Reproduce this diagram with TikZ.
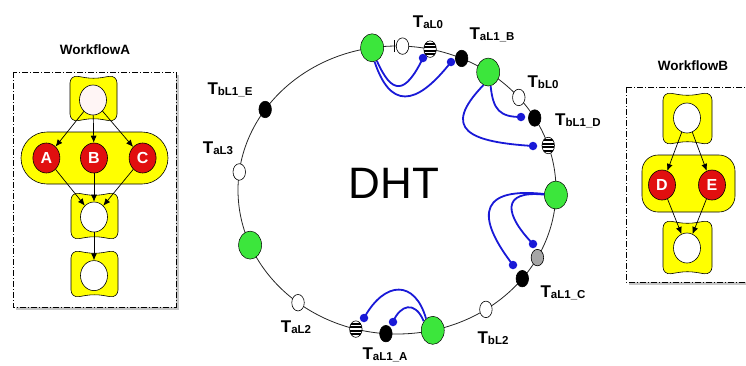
\documentclass[tikz,border=0pt]{standalone}
\usepackage{fontspec}
\setmainfont{Liberation Sans}
\usetikzlibrary{positioning, calc, shapes, arrows.meta, shadows}

\definecolor{ringgreen}{RGB}{60,230,60}
\definecolor{jobred}{RGB}{225,15,15}
\definecolor{linkblue}{RGB}{25,25,215}
\definecolor{padyellow}{RGB}{255,255,0}

\newcommand{\tname}[1]{{\fontsize{17}{17}\selectfont T}\raisebox{-1.5pt}{\fontsize{11.5}{12}\selectfont #1}}
\newcommand{\pad}[4]{% yellow holder behind one task
  \draw[holder] (#1,#2) -- ({(#1+#3)/2},#2+4) -- (#3,#2) -- (#3,#4)
    -- ({(#1+#3)/2},#4-4) -- (#1,#4) -- cycle;}

\begin{document}
\begin{tikzpicture}[
        x=1pt, y=-1pt,
        every node/.style={inner sep=0pt},
        peer/.style={draw, ellipse, fill=ringgreen, minimum width=23pt, minimum height=28pt, line width=0.5pt},
        slot/.style={draw, ellipse, fill=white, minimum width=12.5pt, minimum height=16.5pt, line width=0.6pt},
        slotdone/.style={slot, fill=black},
        slotgray/.style={slot, fill=black!35},
        slotstripe/.style={slot, path picture={
            \foreach \k in {-6,-2.5,1,4.5}
              \fill[black] ([yshift=\k*1pt]path picture bounding box.west)
                rectangle ([yshift=\k*1pt+1.8pt]path picture bounding box.east);}},
        hook/.style={circle, fill=linkblue, minimum size=8.5pt},
        dhtlink/.style={linkblue, line width=1.8pt},
        tlab/.style={font=\bfseries},
        task/.style={draw, ellipse, fill=white, minimum width=27pt, minimum height=30pt, line width=0.6pt},
        job/.style={task, fill=jobred, text=white, font=\bfseries\fontsize{16}{16}\selectfont},
        holder/.style={draw, fill=padyellow, rounded corners=8pt, line width=0.6pt},
        flow/.style={-{Latex[length=7pt, width=6pt]}, line width=0.7pt},
        wfframe/.style={draw, fill=white, line width=0.6pt,
            dash pattern=on 6pt off 2pt on 1pt off 2pt,
            drop shadow={opacity=0.45, shadow xshift=3pt, shadow yshift=-3pt}},
        wftitle/.style={font=\bfseries\fontsize{13.5}{14}\selectfont}
      ]
        \useasboundingbox (0,0) rectangle (746,365);

        % the ring
        \coordinate (ring) at (397,190);
        \draw[black!85, line width=0.8pt] (ring) ellipse [x radius=159pt, y radius=144pt];
        \node[font=\fontsize{44}{44}\selectfont] (dht) at (394,183) {DHT};

        \node[peer] (g1) at ($(ring)+(99:159pt and 144pt)$) {};
        \node[slot] (hb) at ($(ring)+(88:159pt and 144pt)$) {};
        \draw[line width=0.8pt] ([xshift=-2pt,yshift=-6pt]hb.west) -- ([xshift=-2pt,yshift=6pt]hb.west);
        \node[slotstripe] (s0) at ($(ring)+(78:159pt and 144pt)$) {};
        \node[slotdone] (k1) at ($(ring)+(66:159pt and 144pt)$) {};
        \node[peer] (g2) at ($(ring)+(55:159pt and 144pt)$) {};
        \node[slot] (h1) at ($(ring)+(40:159pt and 144pt)$) {};
        \node[slotdone] (k2) at ($(ring)+(30:159pt and 144pt)$) {};
        \node[slotstripe] (s1) at ($(ring)+(18:159pt and 144pt)$) {};
        \node[peer] (g3) at ($(ring)+(-2:159pt and 144pt)$) {};
        \node[slotgray] (gr) at ($(ring)+(-28:159pt and 144pt)$) {};
        \node[slotdone] (k3) at ($(ring)+(-38:159pt and 144pt)$) {};
        \node[slot] (h2) at ($(ring)+(-56:159pt and 144pt)$) {};
        \node[peer] (g4) at ($(ring)+(-77:159pt and 144pt)$) {};
        \node[slotdone] (k4) at ($(ring)+(-94:159pt and 144pt)$) {};
        \node[slotstripe] (s2) at ($(ring)+(-105:159pt and 144pt)$) {};
        \node[slot] (h3) at ($(ring)+(-128.5:159pt and 144pt)$) {};
        \node[peer] (g5) at ($(ring)+(-157.5:159pt and 144pt)$) {};
        \node[slot] (h4) at ($(ring)+(172.8:159pt and 144pt)$) {};
        \node[slotdone] (k5) at ($(ring)+(146:159pt and 144pt)$) {};

        \node[tlab] (ls0) at (428,22) {\tname{aL0}};
        \node[tlab] (lk1) at (492,35) {\tname{aL1\_B}};
        \node[tlab] (lh1) at (543,82) {\tname{bL0}};
        \node[tlab] (lk2) at (578,121) {\tname{bL1\_D}};
        \node[tlab] (lk3) at (563,293) {\tname{aL1\_C}};
        \node[tlab] (lh2) at (493,338) {\tname{bL2}};
        \node[tlab] (lk4) at (385,355) {\tname{aL1\_A}};
        \node[tlab] (lh3) at (296,327) {\tname{aL2}};
        \node[tlab] (lh4) at (218,148) {\tname{aL3}};
        \node[tlab] (lk5) at (230,90) {\tname{bL1\_E}};

        % replica pointers
        \node[hook] (bd1) at (423,58) {};
        \node[hook] (bd2) at (451,62) {};
        \node[hook] (bd3) at (521,117) {};
        \node[hook] (bd4) at (533,146) {};
        \node[hook] (bd5) at (533,244) {};
        \node[hook] (bd6) at (513,265) {};
        \node[hook] (bd7) at (393,322) {};
        \node[hook] (bd8) at (364,318) {};
        \draw[dhtlink] (g1.-70) .. controls (392,95) and (405,95) .. (bd1.center);
        \draw[dhtlink] (g1.-80) .. controls (390,108) and (415,108) .. (bd2.center);
        \draw[dhtlink] (g2.-80) .. controls (493,110) and (500,117) .. (bd3.center);
        \draw[dhtlink] (g2.-110) .. controls (440,130) and (470,142) .. (bd4.center);
        \draw[dhtlink] (g3.178) .. controls (500,190) and (505,215) .. (bd5.center);
        \draw[dhtlink] (g3.175) .. controls (470,186) and (482,225) .. (bd6.center);
        \draw[dhtlink] (g4.135) .. controls (415,300) and (400,305) .. (bd7.center);
        \draw[dhtlink] (g4.120) .. controls (415,280) and (385,280) .. (bd8.center);

        % WorkflowA
        \node[wftitle] (titlea) at (95,50) {WorkflowA};
        \path[wfframe] (13,72) rectangle (176,307);
        \pad{70}{75}{117}{122}
        \draw[holder, rounded corners=26pt] (21,132) rectangle (168,184);
        \pad{71}{192}{118}{240}
        \pad{71}{250}{118}{298}
        \node[task, fill=red!4] (wa0) at (93,100) {};
        \node[job] (wab) at (94,158) {B};
        \node[job, left=20pt of wab] (waa) {A};
        \node[job, right=21pt of wab] (wac) {C};
        \node[task] (wa1) at (94,217) {};
        \node[task, below=28pt of wa1] (wa2) {};
        \foreach \j in {waa,wab,wac} {
          \draw[flow] (wa0) -- (\j);
          \draw[flow] (\j) -- (wa1);
        }
        \draw[flow] (wa1) -- (wa2);

        % WorkflowB
        \node[wftitle] (titleb) at (693,66) {WorkflowB};
        \path[wfframe] (626,87) rectangle (775,282);
        \pad{663}{92}{712}{145}
        \draw[holder, rounded corners=16pt] (642,155) rectangle (735,212);
        \pad{663}{220}{712}{275}
        \node[task] (wb0) at (687,118) {};
        \node[job] (wbd) at (662,185) {D};
        \node[job] (wbe) at (712,185) {E};
        \node[task] (wb1) at (687,248) {};
        \foreach \j in {wbd,wbe} {
          \draw[flow] (wb0) -- (\j);
          \draw[flow] (\j) -- (wb1);
        }
\end{tikzpicture}
\end{document}
